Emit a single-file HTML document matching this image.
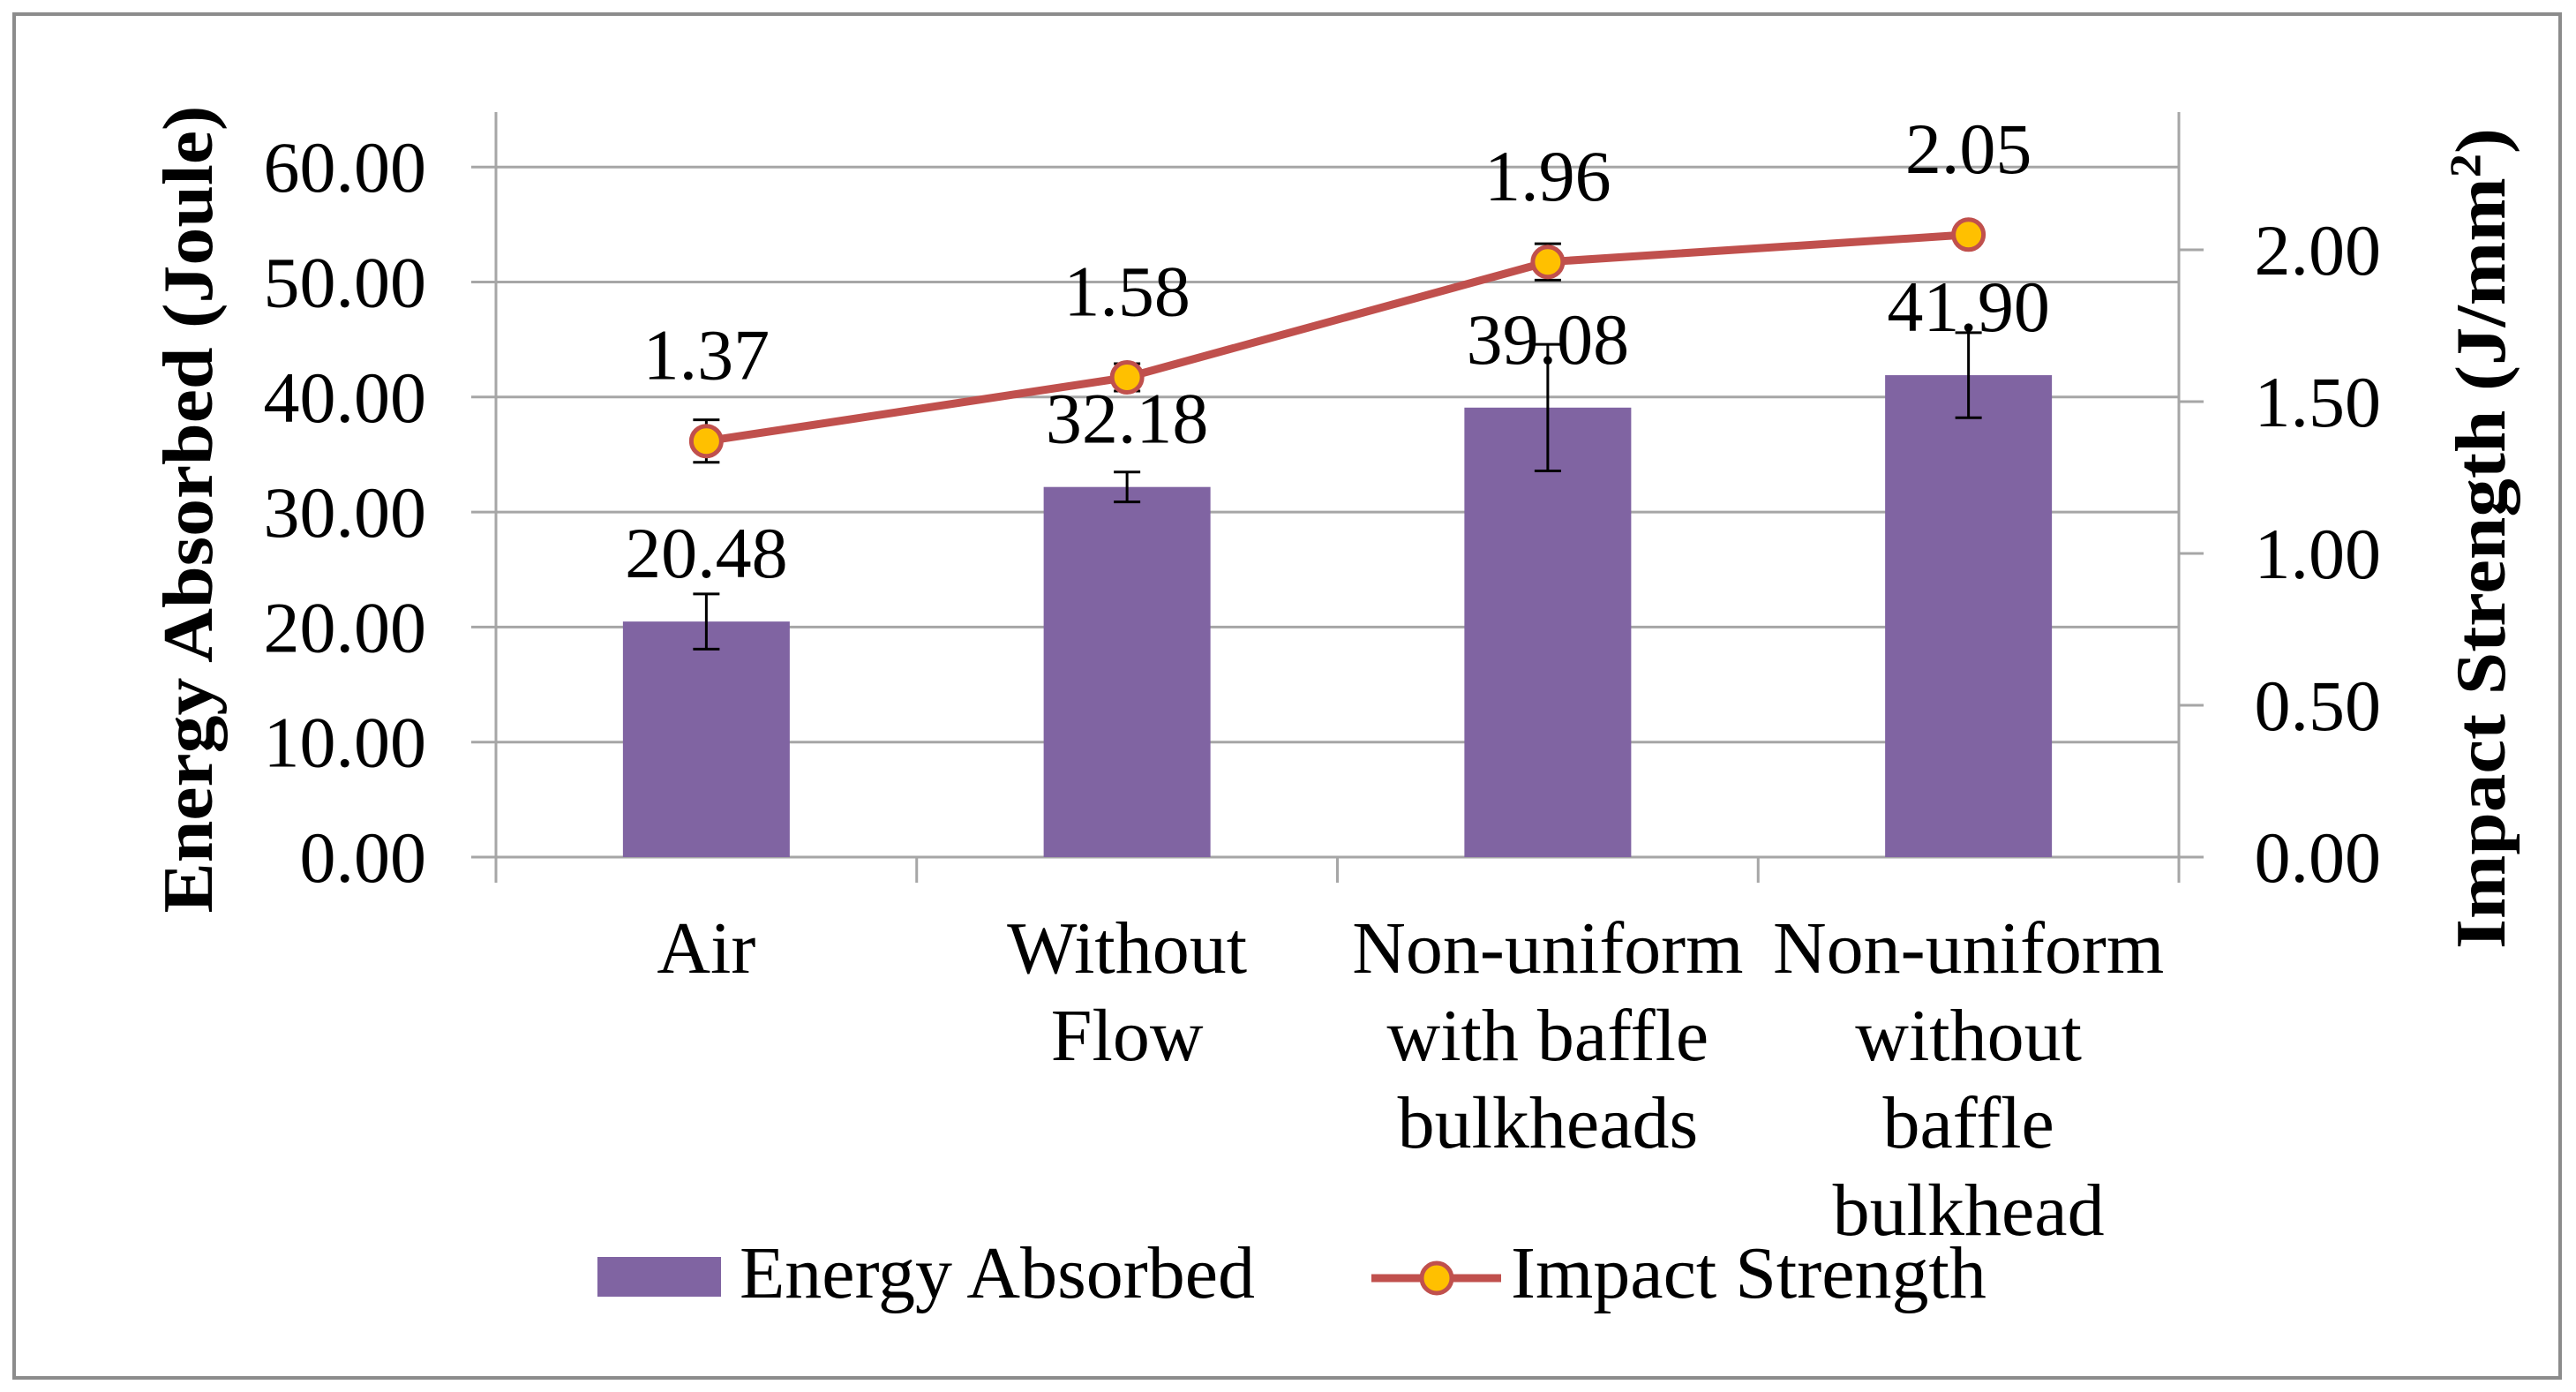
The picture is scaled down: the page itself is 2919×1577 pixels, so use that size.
<!DOCTYPE html>
<html><head><meta charset="utf-8"><style>
html,body{margin:0;padding:0;background:#fff;}
svg{display:block;font-family:"Liberation Serif",serif;}
</style></head><body>
<svg id="chart" width="2919" height="1577" viewBox="0 0 2919 1577" xmlns="http://www.w3.org/2000/svg">
<rect x="16" y="16" width="2885" height="1545" fill="#fff" stroke="#8c8c8c" stroke-width="4"/>
<g id="grid"></g><g id="bars"></g><g id="line"></g><g id="labels"></g>
<text transform="translate(240,577) rotate(-90)" text-anchor="middle" font-size="80" font-weight="bold" textLength="915" lengthAdjust="spacingAndGlyphs">Energy Absorbed (Joule)</text>
<text transform="translate(2838,610) rotate(-90)" text-anchor="middle" font-size="80" font-weight="bold" textLength="930" lengthAdjust="spacingAndGlyphs">Impact Strength (J/mm<tspan baseline-shift="super" font-size="50">2</tspan>)</text>
<g>
<rect x="677" y="1424" width="140" height="45" fill="#8064A2"/>
<text x="838" y="1470" font-size="84">Energy Absorbed</text>
<line x1="1554" y1="1448" x2="1701" y2="1448" stroke="#C0504D" stroke-width="9"/>
<circle cx="1628" cy="1448" r="17" fill="#FFC000" stroke="#C0504D" stroke-width="5"/>
<text x="1712" y="1470" font-size="84">Impact Strength</text>
</g>
</svg>
<script>
const categories=[["Air"],["Without","Flow"],["Non-uniform","with baffle","bulkheads"],["Non-uniform","without","baffle","bulkhead"]];
const energy=[20.48,32.18,39.08,41.90];
const energyErr=[2.4,1.3,5.5,3.7];
const impact=[1.37,1.58,1.96,2.05];
const impactErr=[0.07,0.045,0.06,0];
const leftTicks=[0,10,20,30,40,50,60];
const rightTicks=[0,0.5,1.0,1.5,2.0];
const NS="http://www.w3.org/2000/svg";
const X0=562,X1=2469,Y0=971,YTOP=127;
const yL=v=>Y0-v*13.03;
const yR=v=>Y0-v*344;
const band=(X1-X0)/categories.length;
const xC=i=>X0+band*(i+0.5);
function mk(p,t,a){const e=document.createElementNS(NS,t);for(const k in a)e.setAttribute(k,a[k]);p.appendChild(e);return e;}
const grid=document.getElementById('grid'),bars=document.getElementById('bars'),line=document.getElementById('line'),labels=document.getElementById('labels');
leftTicks.forEach(v=>{
 const g=mk(grid,'line',{x1:X0-28,x2:X1,y1:yL(v),y2:yL(v),stroke:'#a6a6a6','stroke-width':3});
 
 
 const t=mk(labels,'text',{x:483,y:yL(v)+28,'text-anchor':'end','font-size':82});
 t.textContent=v.toFixed(2);
 
 
});
rightTicks.forEach(v=>{
 const g=mk(grid,'line',{x1:X1,x2:X1+28,y1:yR(v),y2:yR(v),stroke:'#a6a6a6','stroke-width':3});
 
 
 const t=mk(labels,'text',{x:2698,y:yR(v)+28,'text-anchor':'end','font-size':82});
 t.textContent=v.toFixed(2);
 
 
});
let a=mk(grid,'line',{x1:X0,x2:X0,y1:YTOP,y2:1000,stroke:'#a6a6a6','stroke-width':3});


a=mk(grid,'line',{x1:X1,x2:X1,y1:YTOP,y2:1000,stroke:'#a6a6a6','stroke-width':3});


for(let i=1;i<categories.length;i++){
 const tk=mk(grid,'line',{x1:X0+band*i,x2:X0+band*i,y1:Y0,y2:1000,stroke:'#a6a6a6','stroke-width':3});
 
 
}
categories.forEach((c,i)=>{
 const bw=189,x=xC(i);
 const b=mk(bars,'rect',{x:x-bw/2,y:yL(energy[i]),width:bw,height:Y0-yL(energy[i]),fill:'#8064A2'});
 
 
 const hi=yL(energy[i]+energyErr[i]),lo=yL(energy[i]-energyErr[i]);
 const eb=mk(bars,'path',{d:`M${x-15},${hi}H${x+15}M${x},${hi}V${lo}M${x-15},${lo}H${x+15}`,stroke:'#000','stroke-width':3,fill:'none'});
 
 
 const t=mk(labels,'text',{x:x,y:yL(energy[i])-50,'text-anchor':'middle','font-size':82});
 t.textContent=energy[i].toFixed(2);
 
 
 c.forEach((ln,j)=>{
  const tt=mk(labels,'text',{x:x,y:1102+j*99,'text-anchor':'middle','font-size':84});
  tt.textContent=ln;
  
  
 });
});
const pl=mk(line,'polyline',{points:impact.map((v,i)=>xC(i)+','+yR(v)).join(' '),fill:'none',stroke:'#C0504D','stroke-width':9,'stroke-linejoin':'round'});


impact.forEach((v,i)=>{
 const x=xC(i);
 if(impactErr[i]>0){
  const hi=yR(v+impactErr[i]),lo=yR(v-impactErr[i]);
  const eb=mk(line,'path',{d:`M${x-15},${hi}H${x+15}M${x},${hi}V${lo}M${x-15},${lo}H${x+15}`,stroke:'#000','stroke-width':3,fill:'none'});
  
  
 }
 const m=mk(line,'circle',{cx:x,cy:yR(v),r:17,fill:'#FFC000',stroke:'#C0504D','stroke-width':5});
 
 
 const t=mk(labels,'text',{x:x,y:yR(v)-70,'text-anchor':'middle','font-size':82});
 t.textContent=v.toFixed(2);
 
 
});
</script>
</body></html>
